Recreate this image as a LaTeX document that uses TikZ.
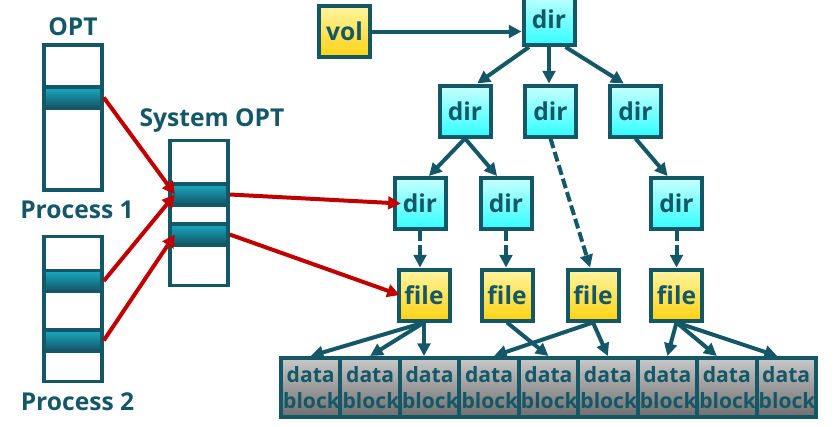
\documentclass[tikz,border=0pt]{standalone}
\usepackage{fontspec}
\setmainfont{Open Sans}
\usepackage{tikz}
\usetikzlibrary{arrows.meta}

\definecolor{tealdark}{RGB}{20,88,104}
\definecolor{ptrred}{RGB}{192,0,0}
\definecolor{dirtop}{RGB}{200,255,255}
\definecolor{dirbot}{RGB}{50,255,255}
\definecolor{filetop}{RGB}{255,245,160}
\definecolor{filebot}{RGB}{255,210,20}
\definecolor{blocktop}{RGB}{200,200,200}
\definecolor{blockbot}{RGB}{110,110,110}
\definecolor{slottop}{RGB}{25,170,195}
\definecolor{slotbot}{RGB}{20,85,100}

\begin{document}
\begin{tikzpicture}[x=0.3mm,y=-0.3mm,
  font=\fontsize{21}{21.5}\selectfont\bfseries, text=tealdark,
  treebox/.style={draw=tealdark, line width=1.2mm, minimum size=15.3mm, inner sep=0pt},
  dirbox/.style={treebox, top color=dirtop, bottom color=dirbot},
  filebox/.style={treebox, top color=filetop, bottom color=filebot},
  blockbox/.style={draw=tealdark, line width=1.2mm, minimum width=17.83mm, minimum height=17.7mm,
    inner sep=0pt, text width=16.5mm, align=center, font=\fontsize{18}{21.5}\selectfont\bfseries,
    top color=blocktop, bottom color=blockbot},
  opttable/.style={draw=tealdark, line width=1.05mm, fill=white, minimum width=17.4mm, minimum height=43.4mm},
  slot/.style={draw=tealdark, line width=1.05mm, minimum width=17.4mm, minimum height=6.3mm,
    top color=slottop, bottom color=slotbot},
  label/.style={anchor=base, inner sep=0pt},
  link/.style={draw=tealdark, line width=1.2mm, -{Triangle[length=3.8mm,width=3.8mm]}},
  dashlink/.style={link, dash pattern=on 3mm off 1.2mm},
  ptr/.style={draw=ptrred, line width=1.2mm, -{Triangle[length=3.8mm,width=3.8mm]}}]
\useasboundingbox (0,0) rectangle (834,426);

% Open file tables
\node[opttable] (p1) at (73,117.5) {};
\node[slot] (o1) at (73,97.5) {};
\node[opttable] (p2) at (73,309) {};
\node[slot] (q1) at (73,281) {};
\node[slot] (q2) at (73,340.5) {};
\node[opttable] (sys) at (199,213) {};
\node[slot] (s1) at (199,194.5) {};
\node[slot] (s2) at (199,234.5) {};

\node[label] (optlabel) at (73,35) {OPT};
\node[label] (p1label) at (77,218) {Process 1};
\node[label] (p2label) at (77.5,410) {Process 2};
\node[label] (syslabel) at (212,126) {System OPT};

% Directory tree
\node[filebox] (vol) at (344.5,31.5) {vol};
\node[dirbox] (top) at (549,19.5) {dir};
\node[dirbox] (d1) at (465,111) {dir};
\node[dirbox] (d2) at (550.5,111) {dir};
\node[dirbox] (d3) at (635.5,111) {dir};
\node[dirbox] (d11) at (420,203.5) {dir};
\node[dirbox] (d12) at (506,203.5) {dir};
\node[dirbox] (d31) at (676.5,203.5) {dir};
\node[filebox] (f1) at (424,295) {file};
\node[filebox] (f2) at (507,295) {file};
\node[filebox] (f3) at (593,295) {file};
\node[filebox] (f4) at (676.5,295) {file};

% Data blocks
\foreach \i in {1,...,9}
  \node[blockbox] (b\i) at ({310.7+59.44*(\i-1)},387.5) {data\\block};

% Tree links
\draw[link] (vol.east) -- (vol.east -| top.west);
\draw[link] (top.234) -- (d1.66);
\draw[link] (top.south) -- (top.south |- d2.north);
\draw[link] (top.301) -- (d3.113);
\draw[link] (d1.south) -- (d11.72);
\draw[link] (d1.south) -- (d12.108);
\draw[link] (d3.south) -- (d31.108);
\draw[dashlink] (d2.south) -- (f3.96);
\draw[dashlink] (d11.south) -- (d11.south |- f1.north);
\draw[dashlink] (d12.south) -- (d12.south |- f2.north);
\draw[dashlink] (d31.south) -- (f4.north);

% File to block links
\draw[link] (f1.south) -- (b1.north);
\draw[link] (f1.south) -- (b2.north);
\draw[link] (f1.south) -- (f1.south |- b3.north);
\draw[link] (f2.south) -- (b5.north);
\draw[link] (f3.south) -- ([xshift=1.5mm]b4.north);
\draw[link] (f3.south) -- (b6.north);
\draw[link] (f4.south) -- (b7.north);
\draw[link] (f4.south) -- ([xshift=-3mm]b8.north);
\draw[link] (f4.south) -- ([xshift=-2.7mm]b9.north);

% Pointers
\draw[ptr] (o1.east) -- ([xshift=2mm]s1.west);
\draw[ptr] (q1.east) -- ([xshift=2mm]s1.west);
\draw[ptr] (q2.east) -- ([xshift=2mm]s2.west);
\draw[ptr] (s1.east) -- ([xshift=2.5mm]d11.west);
\draw[ptr] (s2.east) -- ([xshift=1mm]f1.west);
\end{tikzpicture}
\end{document}
